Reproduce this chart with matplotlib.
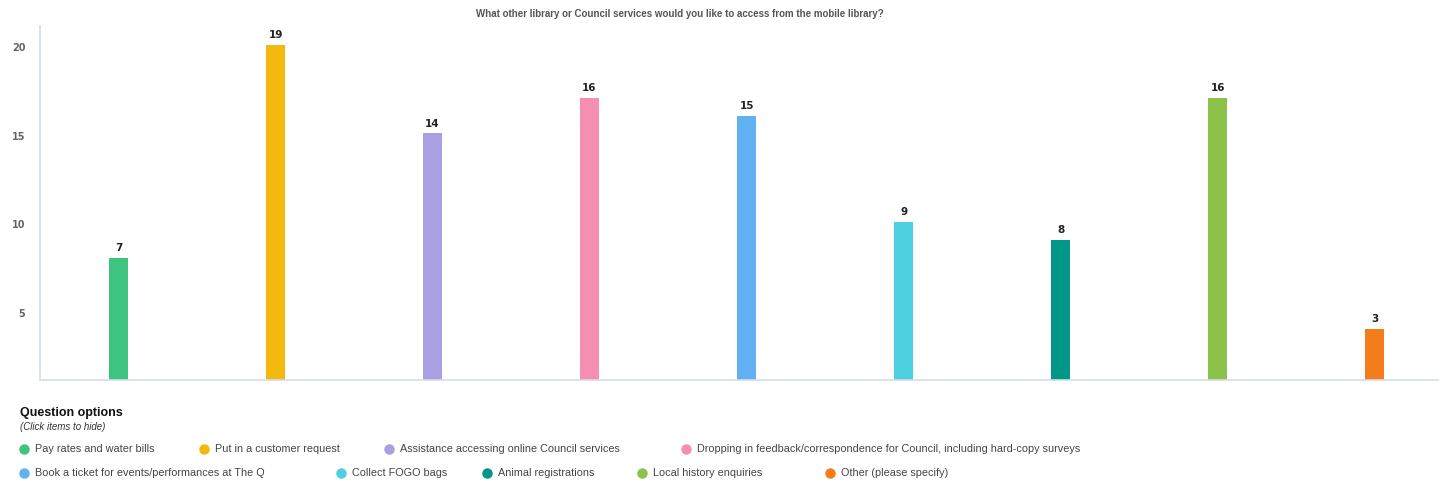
import matplotlib.pyplot as plt
from matplotlib.lines import Line2D

plt.rcParams["font.family"] = ["Liberation Sans", "DejaVu Sans"]

# survey responses
options = [
    "Pay rates and water bills",
    "Put in a customer request",
    "Assistance accessing online Council services",
    "Dropping in feedback/correspondence for Council, including hard-copy surveys",
    "Book a ticket for events/performances at The Q",
    "Collect FOGO bags",
    "Animal registrations",
    "Local history enquiries",
    "Other (please specify)",
]
counts = [7, 19, 14, 16, 15, 9, 8, 16, 3]
colors = ["#3fc380", "#f3b90f", "#a99fe3", "#f48fb1", "#62b1f3",
          "#4dd0e1", "#009688", "#8bc34a", "#f47c1a"]
y_ticks = [5, 10, 15, 20]

BASE = 1.12  # bars sit on this offset baseline

W, H = 1439, 482
fig = plt.figure(figsize=(W / 100, H / 100), dpi=100)
ax = fig.add_axes([40 / W, 1 - 380 / H, 1 - 40 / W, (380 - 26) / H])

x = list(range(len(counts)))
ax.bar(x, counts, bottom=BASE, width=0.122, color=colors, zorder=2)
for xi, c in zip(x, counts):
    ax.annotate(str(c), (xi, c + BASE), xytext=(0, 3.5), textcoords="offset points",
                ha="center", va="bottom", fontsize=7.5, fontweight="bold",
                color="#222222", family="DejaVu Sans")

ax.set_xlim(-0.5, 8.41)
ax.set_ylim(1.22, 21.18)
ax.set_xticks([])
ax.set_yticks(y_ticks)
ax.set_yticklabels([str(t) for t in y_ticks], fontsize=7, fontweight="bold",
                   color="#666666", family="DejaVu Sans")
ax.tick_params(axis="y", length=0, pad=10.5)
for side in ["top", "right"]:
    ax.spines[side].set_visible(False)
for side in ["left", "bottom"]:
    ax.spines[side].set_color("#d3dde8")
    ax.spines[side].set_linewidth(1.2)

fig.text(680 / W, 1 - 14 / H, "What other library or Council services would you like to access from the mobile library?",
         ha="center", va="center", fontsize=7, fontweight="bold", color="#555555")

# legend block
fig.text(20 / W, 1 - 413 / H, "Question options", ha="left", va="center",
         fontsize=9, fontweight="bold", color="#111111")
fig.text(20 / W, 1 - 427 / H, "(Click items to hide)", ha="left", va="center",
         fontsize=7, style="italic", color="#333333")

marker_pos = [(24, 449), (204, 449), (389, 449), (686, 449),
              (24, 473), (341, 473), (487, 473), (642, 473), (830, 473)]
for (mx, my), label, col in zip(marker_pos, options, colors):
    fig.add_artist(Line2D([mx / W], [1 - my / H], marker="o", markersize=6.5,
                          markerfacecolor=col, markeredgecolor=col, transform=fig.transFigure))
    fig.text((mx + 11) / W, 1 - my / H, label, ha="left", va="center",
             fontsize=7.8, color="#444444")

fig.savefig("out.png", dpi=100)
